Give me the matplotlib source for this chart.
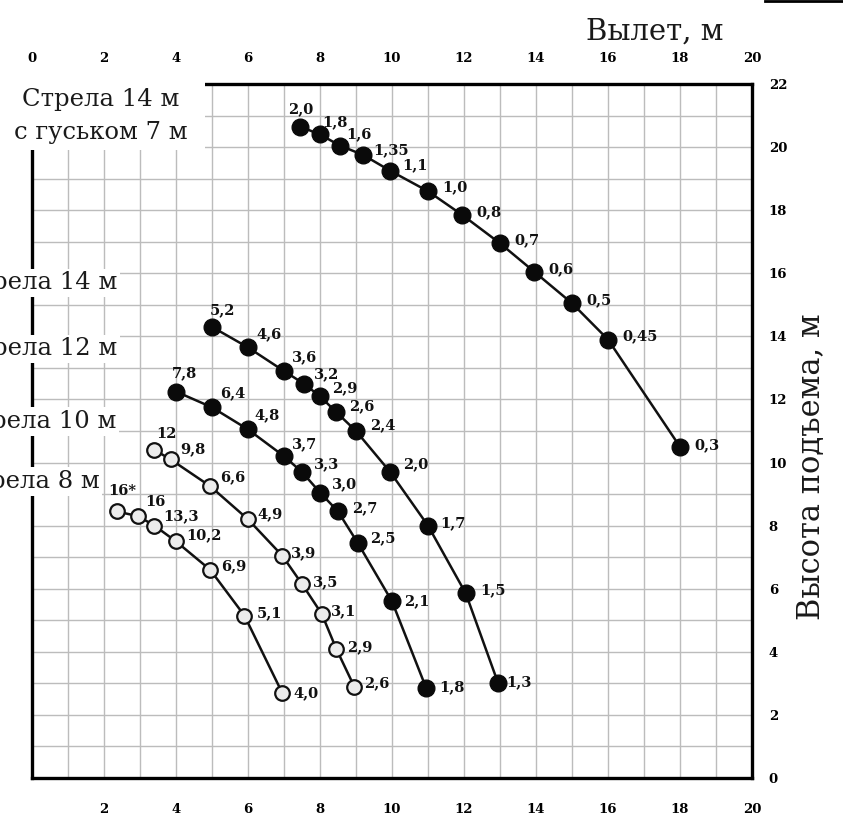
import numpy as np
import matplotlib
matplotlib.use('Agg')
import matplotlib.pyplot as plt
from matplotlib.patches import Rectangle
from matplotlib.lines import Line2D

# boom 14 m with 7 m jib
jib_x = [7.45, 8.0, 8.55, 9.2, 9.95, 11.0, 11.95, 13.0, 13.95, 15.0, 16.0, 18.0]
jib_y = [20.65, 20.4, 20.05, 19.75, 19.25, 18.6, 17.85, 16.95, 16.05, 15.05, 13.9, 10.5]
jib_lbl = ['2,0', '1,8', '1,6', '1,35', '1,1', '1,0', '0,8', '0,7', '0,6', '0,5', '0,45', '0,3']

# boom 14 m
b14_x = [5.0, 6.0, 7.0, 7.55, 8.0, 8.45, 9.0, 9.95, 11.0, 12.05, 12.95]
b14_y = [14.3, 13.65, 12.9, 12.5, 12.1, 11.6, 11.0, 9.7, 8.0, 5.85, 3.0]
b14_lbl = ['5,2', '4,6', '3,6', '3,2', '2,9', '2,6', '2,4', '2,0', '1,7', '1,5', '1,3']

# boom 12 m
b12_x = [4.0, 5.0, 6.0, 7.0, 7.5, 8.0, 8.5, 9.05, 10.0, 10.95]
b12_y = [12.25, 11.75, 11.05, 10.2, 9.7, 9.05, 8.45, 7.45, 5.6, 2.85]
b12_lbl = ['7,8', '6,4', '4,8', '3,7', '3,3', '3,0', '2,7', '2,5', '2,1', '1,8']

# boom 10 m
b10_x = [3.4, 3.85, 4.95, 6.0, 6.95, 7.5, 8.05, 8.45, 8.95]
b10_y = [10.4, 10.1, 9.25, 8.2, 7.05, 6.15, 5.2, 4.1, 2.9]
b10_lbl = ['12', '9,8', '6,6', '4,9', '3,9', '3,5', '3,1', '2,9', '2,6']

# boom 8 m
b8_x = [2.35, 2.95, 3.4, 4.0, 4.95, 5.9, 6.95]
b8_y = [8.45, 8.3, 8.0, 7.5, 6.6, 5.15, 2.7]
b8_lbl = ['16*', '16', '13,3', '10,2', '6,9', '5,1', '4,0']

# label offsets, pixels (dx, dy up)
jib_off = [(-12, 17), (2, 12), (6, 11), (10, 5), (12, 6), (14, 4), (14, 3), (14, 3), (14, 3), (14, 3), (14, 3), (14, 2)]
b14_off = [(-2, 17), (8, 13), (8, 14), (10, 9), (12, 8), (13, 6), (14, 6), (13, 8), (12, 2), (14, 3), (8, 1)]
b12_off = [(-4, 18), (8, 14), (6, 14), (8, 12), (12, 8), (12, 8), (14, 3), (12, 5), (12, 0), (13, 1)]
b10_off = [(2, 16), (10, 10), (10, 9), (9, 5), (9, 2), (11, 2), (9, 3), (11, 1), (10, 3)]
b8_off = [(-8, 20), (7, 14), (9, 9), (10, 6), (11, 4), (12, 2), (11, 0)]

boom_names = ['Стрела 14 м', 'Стрела 12 м', 'Стрела 10 м', 'Стрела 8 м']
boom_name_y = [15.7, 13.6, 11.3, 9.4]
boom_name_x = [2.38, 2.38, 2.33, 1.88]

serif = 'DejaVu Serif'

fig = plt.figure(figsize=(8.43, 8.32), dpi=100)
ax = fig.add_axes([32 / 843, 54 / 832, 720 / 843, 694 / 832])
ax.set_xlim(0, 20)
ax.set_ylim(0, 22)

ax.set_xticks(np.arange(2, 21, 2))
ax.set_xticks(np.arange(0, 21, 1), minor=True)
ax.set_yticks(np.arange(0, 23, 2))
ax.set_yticks(np.arange(0, 23, 1), minor=True)
ax.grid(which='both', color='#bcbcbc', linewidth=1.0)
ax.set_axisbelow(True)
ax.yaxis.tick_right()
ax.tick_params(which='both', length=0)
ax.tick_params(axis='x', pad=18)
ax.tick_params(axis='y', pad=12)
for lb in ax.get_xticklabels() + ax.get_yticklabels():
    lb.set_fontfamily(serif)
    lb.set_fontweight('bold')
    lb.set_fontsize(9.5)

top = ax.secondary_xaxis('top')
top.set_xticks(np.arange(0, 21, 2))
top.tick_params(length=0, pad=14)
for lb in top.get_xticklabels():
    lb.set_fontfamily(serif)
    lb.set_fontweight('bold')
    lb.set_fontsize(9.5)
top.spines['top'].set_visible(False)

for s in ax.spines.values():
    s.set_linewidth(2.4)
    s.set_color('black')


def draw(xs, ys, labels, offs, hollow):
    if hollow:
        ax.plot(xs, ys, '-o', color='#111111', lw=1.8, ms=10.5,
                mfc='#ececec', mec='#111111', mew=1.6, zorder=5)
    else:
        ax.plot(xs, ys, '-o', color='#111111', lw=1.8, ms=12, mfc='#0a0a0a', mec='#0a0a0a', zorder=5)
    for x, y, t, (dx, dy) in zip(xs, ys, labels, offs):
        ax.annotate(t, (x, y), xytext=(dx * 0.72, dy * 0.72), textcoords='offset points',
                    ha='left', va='center', fontsize=10.5, fontweight='bold',
                    family=serif, color='#111111', zorder=6)


draw(jib_x, jib_y, jib_lbl, jib_off, False)
draw(b14_x, b14_y, b14_lbl, b14_off, False)
draw(b12_x, b12_y, b12_lbl, b12_off, False)
draw(b10_x, b10_y, b10_lbl, b10_off, True)
draw(b8_x, b8_y, b8_lbl, b8_off, True)

# white corner behind the jib caption
ax.add_patch(Rectangle((-1, 19.9), 5.8, 2.25, facecolor='white', edgecolor='none',
                       transform=ax.transData, clip_on=False, zorder=3))
ax.text(1.9, 21.5, 'Стрела 14 м', ha='center', va='center', fontsize=17.5,
        family=serif, color='#1a1a1a', zorder=4)
ax.text(1.9, 20.45, 'с гуськом 7 м', ha='center', va='center', fontsize=17.5,
        family=serif, color='#1a1a1a', zorder=4)

for name, x, y in zip(boom_names, boom_name_x, boom_name_y):
    ax.text(x, y, name, ha='right', va='center', fontsize=17.5, family=serif,
            color='#1a1a1a', zorder=4, clip_on=False,
            bbox=dict(facecolor='white', edgecolor='none', pad=2))

fig.text(655 / 843, 1 - 32 / 832, 'Вылет, м', ha='center', va='center',
         fontsize=21, family=serif, color='#1a1a1a')
fig.text(812 / 843, 1 - 467 / 832, 'Высота подъема, м', ha='center', va='center',
         rotation=90, fontsize=22, family=serif, color='#1a1a1a')

fig.add_artist(Line2D([765 / 843, 1], [1 - 1 / 832, 1 - 1 / 832], color='black', lw=2))

fig.savefig('out.png', dpi=100)
